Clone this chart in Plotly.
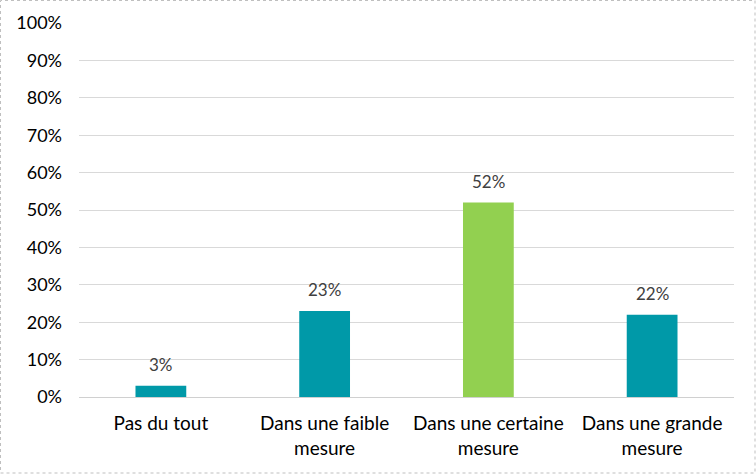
import plotly.graph_objects as go

categories = ["Pas du tout", "Dans une faible<br>mesure", "Dans une certaine<br>mesure", "Dans une grande<br>mesure"]
values = [3, 23, 52, 22]
colors = ["#0099A8", "#0099A8", "#92D050", "#0099A8"]
tick_vals = list(range(0, 101, 10))
tick_text = [f"{v}%" for v in tick_vals]
FONT = "Lato, Carlito, sans-serif"

fig = go.Figure(go.Bar(
    x=categories, y=values,
    marker=dict(color=colors, line=dict(width=0)),
    hoverinfo="skip",
))

annotations = [
    dict(x=c, y=v, text=f"{v}%", showarrow=False, xref="x", yref="y",
         yanchor="bottom", yshift=9,
         font=dict(family=FONT, size=17, color="#404040"))
    for c, v in zip(categories, values)
]

fig.update_layout(
    width=756, height=475,
    margin=dict(l=79, r=22, t=23, b=78),
    paper_bgcolor="white", plot_bgcolor="white",
    bargap=0.69,
    showlegend=False,
    font=dict(family=FONT, size=18, color="#000000"),
    xaxis=dict(showgrid=False, showline=True, linecolor="#D0D0D0", linewidth=1,
               ticks="", tickfont=dict(size=19, color="#000000"), ticklabelstandoff=9),
    yaxis=dict(range=[0, 100], tickvals=tick_vals, ticktext=tick_text,
               showgrid=True, gridcolor="#D9D9D9", gridwidth=1,
               zeroline=False, showline=False, ticks="",
               tickfont=dict(size=18, color="#000000"), ticklabelstandoff=16),
    annotations=annotations,
    shapes=[dict(type="rect", xref="paper", yref="paper",
                 x0=-78.5/655, x1=1 + 21/655, y0=-76/374, y1=1 + 22.5/374,
                 line=dict(color="#BFBFBF", width=1, dash="dot"), layer="above")],
)

fig.write_html("out.html", config={"displayModeBar": False},
               post_script="document.body.style.margin='0';document.body.style.padding='0';")
